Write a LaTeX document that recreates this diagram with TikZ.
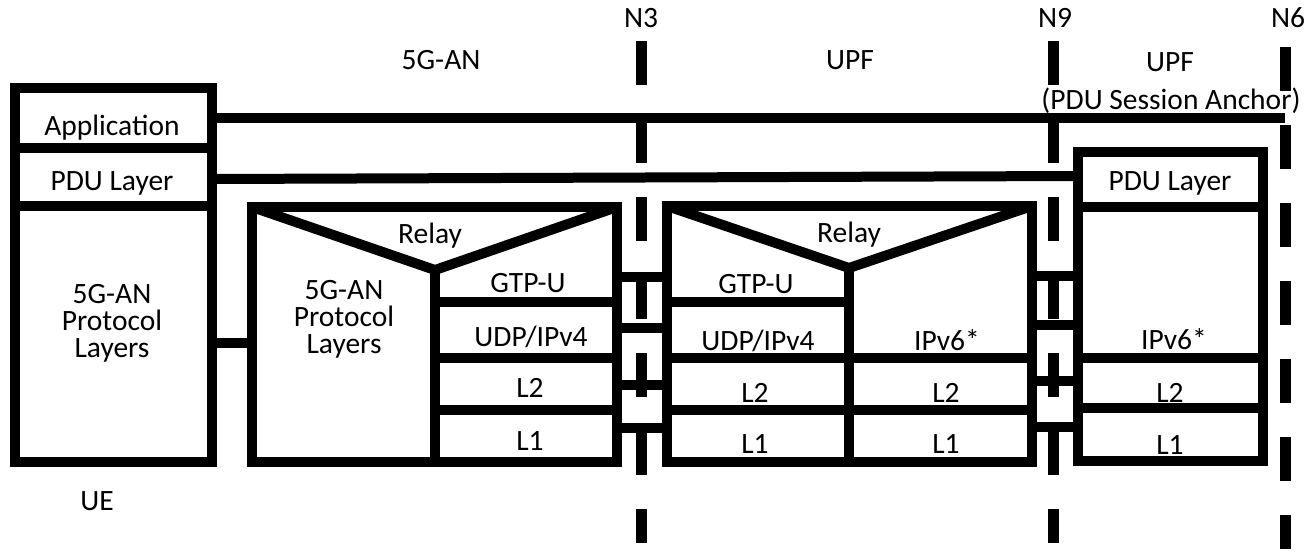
\documentclass[tikz,border=0pt]{standalone}
\usepackage{fontspec}
\setmainfont{Carlito}

\newcommand{\lyr}{\fontsize{14.75}{13.5}\selectfont}
\tikzset{
  layer/.style={font=\lyr, inner sep=0pt, anchor=base, align=center},
  iface/.style={line width=5.5pt, dash pattern=on 22pt off 17pt},
}

\begin{document}
\begin{tikzpicture}[x=0.5pt, y=-0.5pt, line width=5pt]
  \useasboundingbox (0,0) rectangle (1305,556);

  % UE
  \coordinate (UEa) at (15,88);
  \coordinate (UEb) at (212,462);
  \draw (UEa) rectangle (UEb);
  \draw (15,148) -- (212,148);
  \draw (15,206) -- (212,206);

  % 5G-AN
  \coordinate (ANa) at (252,207);
  \coordinate (ANb) at (617,462);
  \coordinate (ANv) at (435,270);
  \draw (ANa) rectangle (ANb);
  \draw (ANa) -- (ANv) -- (617,207);
  \draw (ANv) -- (435,462);
  \foreach \y in {302,358,410}
    \draw (435,\y) -- (617,\y);

  % UPF
  \coordinate (UPa) at (667,206);
  \coordinate (UPb) at (1032,462);
  \coordinate (UPv) at (849,268);
  \draw (UPa) rectangle (UPb);
  \draw (UPa) -- (UPv) -- (1032,206);
  \draw (UPv) -- (849,462);
  \draw (667,302) -- (849,302);
  \foreach \y in {358,410}
    \draw (667,\y) -- (1032,\y);

  % UPF (PDU Session Anchor)
  \coordinate (PSa) at (1078,152);
  \coordinate (PSb) at (1263,461);
  \draw (PSa) rectangle (PSb);
  \foreach \y in {207,358,408}
    \draw (1078,\y) -- (1263,\y);

  % 对等层连线
  \coordinate (appL) at (212,118);
  \coordinate (appR) at (1285,118);
  \coordinate (pduL) at (212,179);
  \coordinate (pduR) at (1078,176);
  \draw (appL) -- (appR);
  \draw (pduL) -- (pduR);
  \draw (212,343) -- (252,343);
  \foreach \y in {277,328,385,428}
    \draw (617,\y) -- (667,\y);
  \foreach \y in {276,325,381,427}
    \draw (1032,\y) -- (1078,\y);

  % 接口
  \draw[iface] (641,41) -- (641,543);
  \draw[iface] (1053,41) -- (1053,543);
  \draw[iface] (1285,47) -- (1285,549);

  \node[layer] (n3)  at (641,28)  {N3};
  \node[layer] (n9)  at (1055,28) {N9};
  \node[layer] (n6)  at (1288,28) {N6};
  \node[layer] (anName)  at (441,70)  {5G-AN};
  \node[layer] (upfName) at (850,70)  {UPF};
  \node[layer] (psaName) at (1170,72) {UPF};
  \node[layer] (psaSub)  at (1171,110) {(PDU Session Anchor)};
  \node[layer] (ueName)  at (97,510) {UE};

  \node[layer] (ueApp)  at (112,135) {Application};
  \node[layer] (uePdu)  at (112,190) {PDU Layer};
  \node[layer] (ueProt) at (112,357) {5G-AN\\Protocol\\Layers};

  \node[layer] (anRelay) at (430,243) {Relay};
  \node[layer] (anProt)  at (344,353) {5G-AN\\Protocol\\Layers};
  \node[layer] (anGtp)   at (528,292) {GTP-U};
  \node[layer] (anUdp)   at (531,346) {UDP/IPv4};
  \node[layer] (anL2)    at (530,397) {L2};
  \node[layer] (anL1)    at (530,450) {L1};

  \node[layer] (upRelay) at (849,242) {Relay};
  \node[layer] (upGtp)   at (756,293) {GTP-U};
  \node[layer] (upUdp)   at (758,350) {UDP/IPv4};
  \node[layer] (upIp)    at (947,350) {IPv6*};
  \node[layer] (upL2a)   at (755,402) {L2};
  \node[layer] (upL2b)   at (946,402) {L2};
  \node[layer] (upL1a)   at (755,453) {L1};
  \node[layer] (upL1b)   at (946,453) {L1};

  \node[layer] (psPdu) at (1170,190) {PDU Layer};
  \node[layer] (psIp)  at (1174,349) {IPv6*};
  \node[layer] (psL2)  at (1170,402) {L2};
  \node[layer] (psL1)  at (1170,454) {L1};
\end{tikzpicture}
\end{document}
